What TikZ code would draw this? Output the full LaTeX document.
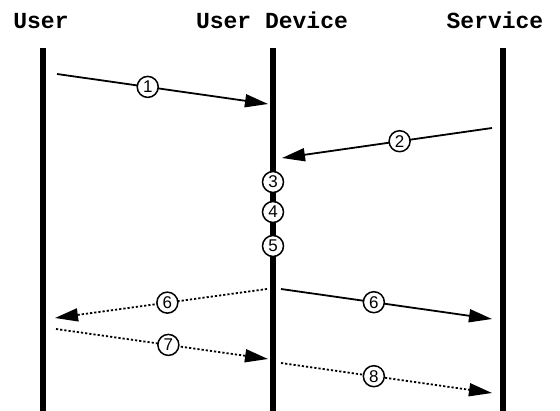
\documentclass[tikz,border=0pt]{standalone}
\usepackage{fontspec}
\setmainfont{Liberation Sans}
\newfontfamily\monofont{Liberation Mono}
\usetikzlibrary{arrows.meta, positioning}

\begin{document}
\begin{tikzpicture}[
        x=1pt, y=-1pt,
        actor/.style={font=\monofont\bfseries\fontsize{23}{23}\selectfont, anchor=base, inner sep=0pt},
        lifeline/.style={line width=5.5pt},
        msg/.style={-{Triangle[length=23pt, width=13pt]}, line width=1.8pt},
        dotmsg/.style={msg, dash pattern=on 2.2pt off 2pt},
        num/.style={circle, draw, solid, line width=1.5pt, fill=white, inner sep=0pt, minimum size=21pt, font=\fontsize{17}{17}\selectfont}
    ]
    \useasboundingbox (0,0) rectangle (560,410);

    % Actors
    \node[actor] (user) at (41,28) {User};
    \node[actor] (device) at (272,28) {User Device};
    \node[actor] (service) at (495,28) {Service};

    % Lifelines
    \coordinate (userTop) at (43,48);
    \coordinate (userBot) at (43,412);
    \coordinate (deviceTop) at (273,48);
    \coordinate (deviceBot) at (273,412);
    \coordinate (serviceTop) at (503,48);
    \coordinate (serviceBot) at (503,412);
    \draw[lifeline] (userTop) -- (userBot);
    \draw[lifeline] (deviceTop) -- (deviceBot);
    \draw[lifeline] (serviceTop) -- (serviceBot);

    % Message ends
    \coordinate (m1a) at (57,74);
    \coordinate (m1b) at (268,104);
    \coordinate (m2a) at (492,128);
    \coordinate (m2b) at (282,158);
    \coordinate (m6a) at (267,289);
    \coordinate (m6b) at (55,318);
    \coordinate (m6c) at (281,289);
    \coordinate (m6d) at (492,319);
    \coordinate (m7a) at (56,329);
    \coordinate (m7b) at (268,359);
    \coordinate (m8a) at (281,363);
    \coordinate (m8b) at (492,393);

    % Arrows
    \draw[msg] (m1a) -- node[num, pos=0.43] (n1) {1} (m1b);
    \draw[msg] (m2a) -- node[num, pos=0.44] (n2) {2} (m2b);
    \draw[dotmsg] (m6a) -- node[num, pos=0.47] (n6a) {6} (m6b);
    \draw[msg] (m6c) -- node[num, pos=0.44] (n6b) {6} (m6d);
    \draw[dotmsg] (m7a) -- node[num, pos=0.53] (n7) {7} (m7b);
    \draw[dotmsg] (m8a) -- node[num, pos=0.44] (n8) {8} (m8b);

    % Local steps on the device
    \node[num] (n3) at (273,182) {3};
    \node[num] (n4) at (273,212) {4};
    \node[num] (n5) at (273,246) {5};
\end{tikzpicture}
\end{document}
